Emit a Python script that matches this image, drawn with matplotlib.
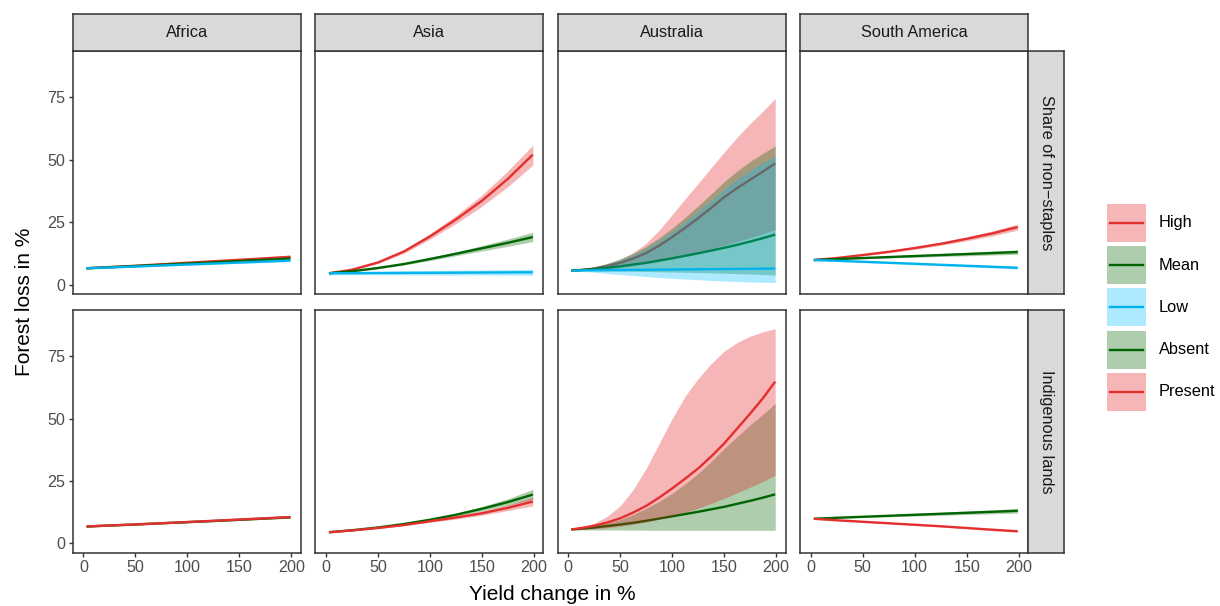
import matplotlib
matplotlib.use("Agg")
import matplotlib.pyplot as plt
from matplotlib.patches import Rectangle
from matplotlib.lines import Line2D

plt.rcParams['font.family'] = ['Liberation Sans', 'DejaVu Sans']

# ---------------- data ----------------
x_vals = [3, 25, 50, 75, 100, 125, 150, 175, 199]
aus_x = [3, 12.5, 25, 37.5, 50, 62.5, 75, 87.5, 100, 112.5, 125, 137.5, 150,
         162.5, 175, 187.5, 199]
regions = ["Africa", "Asia", "Australia", "South America"]
row_labels = ["Share of non\u2212staples", "Indigenous lands"]
legend_labels = ["High", "Mean", "Low", "Absent", "Present"]
x_ticks = [0, 50, 100, 150, 200]
y_ticks = [0, 25, 50, 75]

# Row 1: share of non-staples
africa_high = [6.5, 7.0, 7.5, 8.1, 8.7, 9.3, 9.9, 10.5, 11.1]
africa_high_lo = [6.3, 6.8, 7.3, 7.85, 8.4, 8.95, 9.5, 10.0, 10.5]
africa_high_hi = [6.7, 7.2, 7.7, 8.35, 9.0, 9.65, 10.3, 11.0, 11.7]
africa_mean = [6.5, 6.9, 7.4, 7.9, 8.4, 8.9, 9.4, 9.9, 10.4]
africa_mean_lo = [6.3, 6.7, 7.2, 7.7, 8.15, 8.6, 9.05, 9.5, 9.9]
africa_mean_hi = [6.7, 7.1, 7.6, 8.1, 8.65, 9.2, 9.75, 10.3, 10.9]
africa_low = [6.5, 6.8, 7.2, 7.6, 8.0, 8.4, 8.8, 9.2, 9.6]
africa_low_lo = [6.3, 6.6, 7.0, 7.4, 7.75, 8.1, 8.45, 8.8, 9.1]
africa_low_hi = [6.7, 7.0, 7.4, 7.8, 8.25, 8.7, 9.15, 9.6, 10.1]

asia_high = [4.5, 5.9, 8.8, 13.2, 19.2, 26.0, 33.5, 42.3, 52.0]
asia_high_lo = [4.4, 5.7, 8.4, 12.5, 18.1, 24.4, 31.3, 39.2, 47.8]
asia_high_hi = [4.6, 6.1, 9.2, 13.9, 20.3, 27.6, 35.8, 45.5, 55.8]
asia_mean = [4.5, 5.3, 6.6, 8.2, 10.2, 12.3, 14.5, 16.7, 19.0]
asia_mean_lo = [4.4, 5.1, 6.3, 7.8, 9.6, 11.5, 13.4, 15.3, 17.2]
asia_mean_hi = [4.6, 5.5, 6.9, 8.6, 10.8, 13.1, 15.6, 18.2, 20.9]
asia_low = [4.5, 4.55, 4.6, 4.65, 4.7, 4.75, 4.8, 4.85, 4.9]
asia_low_lo = [3.9, 3.9, 3.9, 3.85, 3.85, 3.8, 3.8, 3.75, 3.7]
asia_low_hi = [5.1, 5.2, 5.3, 5.45, 5.55, 5.7, 5.8, 5.95, 6.1]

australia_high = [5.6, 5.8, 6.4, 7.4, 8.7, 10.4, 12.6, 15.6, 19.0, 22.7, 26.6,
                  30.7, 35.0, 38.6, 42.0, 45.3, 48.5]
australia_high_lo = [5.5, 5.6, 5.9, 6.3, 6.8, 7.5, 8.3, 9.2, 10.3, 11.5, 12.8,
                     14.2, 15.7, 17.2, 18.8, 20.4, 22.0]
australia_high_hi = [5.7, 6.2, 7.0, 8.3, 10.0, 12.8, 16.5, 21.8, 28.0, 34.3, 40.5,
                     46.8, 53.0, 59.0, 64.5, 69.5, 74.5]
australia_mean = [5.6, 5.8, 6.2, 6.7, 7.3, 8.0, 8.7, 9.6, 10.5, 11.5, 12.5,
                  13.6, 14.7, 15.9, 17.2, 18.6, 20.0]
australia_mean_lo = [5.5, 5.5, 5.5, 5.45, 5.4, 5.3, 5.2, 5.1, 5.0, 4.9, 4.8,
                     4.65, 4.5, 4.35, 4.2, 4.0, 3.8]
australia_mean_hi = [5.7, 6.2, 7.1, 8.5, 10.3, 12.5, 15.3, 18.7, 22.6, 26.9, 31.5,
                     36.3, 41.2, 45.5, 49.3, 52.6, 55.5]
australia_low = [5.6, 5.65, 5.7, 5.75, 5.8, 5.85, 5.9, 5.95, 6.0, 6.05, 6.1,
                 6.15, 6.2, 6.25, 6.3, 6.35, 6.4]
australia_low_lo = [5.5, 5.2, 4.9, 4.4, 4.0, 3.6, 3.2, 2.8, 2.5, 2.2, 1.9,
                    1.6, 1.4, 1.2, 1.0, 0.9, 0.8]
australia_low_hi = [5.7, 6.1, 6.9, 8.2, 9.8, 11.8, 14.4, 17.6, 21.2, 25.2, 29.4,
                    33.8, 38.3, 42.2, 45.8, 48.8, 51.5]

samerica_high = [9.8, 10.6, 11.8, 13.1, 14.6, 16.3, 18.3, 20.5, 23.0]
samerica_high_lo = [9.7, 10.4, 11.5, 12.7, 14.1, 15.7, 17.5, 19.5, 21.8]
samerica_high_hi = [9.9, 10.8, 12.1, 13.5, 15.1, 16.9, 19.1, 21.5, 24.2]
samerica_mean = [9.8, 10.2, 10.6, 11.0, 11.4, 11.8, 12.2, 12.6, 13.0]
samerica_mean_lo = [9.7, 10.0, 10.3, 10.6, 10.9, 11.2, 11.5, 11.8, 12.1]
samerica_mean_hi = [9.9, 10.4, 10.9, 11.4, 11.9, 12.4, 12.9, 13.4, 13.9]
samerica_low = [9.8, 9.5, 9.1, 8.7, 8.3, 7.9, 7.5, 7.1, 6.7]
samerica_low_lo = [9.7, 9.3, 8.85, 8.4, 7.95, 7.5, 7.05, 6.6, 6.1]
samerica_low_hi = [9.9, 9.7, 9.35, 9.0, 8.65, 8.3, 7.95, 7.6, 7.3]

# Row 2: indigenous lands
africa_absent = [6.7, 7.1, 7.5, 8.0, 8.45, 8.9, 9.4, 9.9, 10.4]
africa_absent_lo = [6.5, 6.9, 7.3, 7.8, 8.2, 8.65, 9.1, 9.6, 10.0]
africa_absent_hi = [6.9, 7.3, 7.7, 8.2, 8.7, 9.15, 9.7, 10.2, 10.8]
africa_present = [6.7, 7.1, 7.55, 8.0, 8.5, 9.0, 9.5, 10.0, 10.5]
africa_present_lo = [6.5, 6.9, 7.35, 7.8, 8.3, 8.75, 9.25, 9.7, 10.2]
africa_present_hi = [6.9, 7.3, 7.75, 8.2, 8.7, 9.25, 9.75, 10.3, 10.8]

asia_absent = [4.4, 5.2, 6.3, 7.7, 9.4, 11.4, 13.8, 16.5, 19.5]
asia_absent_lo = [4.3, 5.1, 6.1, 7.4, 9.0, 10.8, 12.9, 15.2, 17.6]
asia_absent_hi = [4.5, 5.3, 6.5, 8.0, 9.8, 12.0, 14.7, 17.8, 21.6]
asia_present = [4.4, 5.1, 6.1, 7.3, 8.8, 10.3, 12.0, 14.2, 16.7]
asia_present_lo = [4.3, 5.0, 5.9, 7.0, 8.4, 9.7, 11.2, 13.1, 15.0]
asia_present_hi = [4.5, 5.2, 6.3, 7.6, 9.2, 10.9, 12.8, 15.3, 18.4]

australia_absent = [5.5, 5.8, 6.3, 6.9, 7.5, 8.2, 9.0, 9.9, 10.8, 11.7, 12.6,
                    13.6, 14.6, 15.8, 17.0, 18.3, 19.6]
australia_absent_lo = [5.4, 5.35, 5.3, 5.3, 5.3, 5.25, 5.2, 5.2, 5.2, 5.2, 5.2,
                       5.2, 5.2, 5.2, 5.2, 5.2, 5.2]
australia_absent_hi = [5.6, 6.1, 7.0, 8.1, 9.5, 11.5, 14.0, 16.8, 20.0, 23.8, 28.0,
                       32.8, 38.0, 42.8, 47.5, 51.8, 56.0]
australia_present = [5.5, 6.1, 7.0, 8.3, 10.0, 12.3, 15.0, 18.3, 22.0, 25.9, 30.0,
                     34.8, 40.0, 46.0, 52.0, 58.3, 64.8]
australia_present_lo = [5.4, 5.5, 5.8, 6.2, 6.8, 7.6, 8.5, 9.7, 11.0, 12.4, 14.0,
                        16.0, 18.0, 20.2, 22.5, 24.8, 27.2]
australia_present_hi = [5.6, 6.4, 8.0, 10.8, 15.0, 21.5, 30.0, 40.0, 50.0, 59.0, 66.0,
                        72.0, 77.0, 80.5, 83.0, 84.8, 86.0]

samerica_absent = [9.8, 10.2, 10.6, 11.0, 11.4, 11.8, 12.2, 12.6, 13.0]
samerica_absent_lo = [9.7, 10.0, 10.3, 10.6, 10.9, 11.2, 11.5, 11.8, 12.1]
samerica_absent_hi = [9.9, 10.4, 10.9, 11.4, 11.9, 12.4, 12.9, 13.4, 13.9]
samerica_present = [9.8, 9.2, 8.6, 8.0, 7.4, 6.8, 6.1, 5.4, 4.8]
samerica_present_lo = [9.6, 9.0, 8.4, 7.8, 7.15, 6.55, 5.85, 5.1, 4.5]
samerica_present_hi = [10.0, 9.4, 8.8, 8.2, 7.65, 7.05, 6.35, 5.7, 5.1]

# ---------------- styles ----------------
RED_LINE, RED_FILL = "#E3302F", "#E41A1C"
GREEN_LINE, GREEN_FILL = "#006400", "#006400"
BLUE_LINE, BLUE_FILL = "#00B2EE", "#00BFFF"
ALPHA = 0.32
style = {
    "High": (RED_LINE, RED_FILL),
    "Mean": (GREEN_LINE, GREEN_FILL),
    "Low": (BLUE_LINE, BLUE_FILL),
    "Absent": (GREEN_LINE, GREEN_FILL),
    "Present": (RED_LINE, RED_FILL),
}

X = x_vals
A = aus_x
panels = {
    (0, "Africa"): [("High", X, africa_high, africa_high_lo, africa_high_hi),
                    ("Mean", X, africa_mean, africa_mean_lo, africa_mean_hi),
                    ("Low", X, africa_low, africa_low_lo, africa_low_hi)],
    (0, "Asia"): [("High", X, asia_high, asia_high_lo, asia_high_hi),
                  ("Mean", X, asia_mean, asia_mean_lo, asia_mean_hi),
                  ("Low", X, asia_low, asia_low_lo, asia_low_hi)],
    (0, "Australia"): [("High", A, australia_high, australia_high_lo, australia_high_hi),
                       ("Mean", A, australia_mean, australia_mean_lo, australia_mean_hi),
                       ("Low", A, australia_low, australia_low_lo, australia_low_hi)],
    (0, "South America"): [("High", X, samerica_high, samerica_high_lo, samerica_high_hi),
                           ("Mean", X, samerica_mean, samerica_mean_lo, samerica_mean_hi),
                           ("Low", X, samerica_low, samerica_low_lo, samerica_low_hi)],
    (1, "Africa"): [("Absent", X, africa_absent, africa_absent_lo, africa_absent_hi),
                    ("Present", X, africa_present, africa_present_lo, africa_present_hi)],
    (1, "Asia"): [("Absent", X, asia_absent, asia_absent_lo, asia_absent_hi),
                  ("Present", X, asia_present, asia_present_lo, asia_present_hi)],
    (1, "Australia"): [("Absent", A, australia_absent, australia_absent_lo, australia_absent_hi),
                       ("Present", A, australia_present, australia_present_lo, australia_present_hi)],
    (1, "South America"): [("Absent", X, samerica_absent, samerica_absent_lo, samerica_absent_hi),
                           ("Present", X, samerica_present, samerica_present_lo, samerica_present_hi)],
}

# ---------------- layout ----------------
W, H = 1220, 606
fig = plt.figure(figsize=(W / 100, H / 100), dpi=100)
fig.patch.set_facecolor("white")


def box(l, t, r, b):
    return [l / W, 1 - b / H, (r - l) / W, (b - t) / H]


col_lr = [(72.7, 301.0), (315.1, 543.4), (557.5, 785.8), (800.0, 1028.3)]
row_tb = [(51.0, 294.0), (310.0, 552.7)]
BORDER = "#333333"
STRIP = "#D9D9D9"

for i, (t, b) in enumerate(row_tb):
    for j, (l, r) in enumerate(col_lr):
        ax = fig.add_axes(box(l, t, r, b))
        z = 2
        for grp, xs, mid, lo, hi in panels[(i, regions[j])]:
            lc, fc = style[grp]
            ax.fill_between(xs, lo, hi, color=fc, alpha=ALPHA, lw=0, zorder=z)
            ax.plot(xs, mid, color=lc, lw=1.7, zorder=z + 1, solid_capstyle="butt",
                    solid_joinstyle="round")
            z += 2
        ax.set_xlim(-10.3, 209.2)
        ax.set_ylim(-3.8, 93.5)
        ax.set_xticks(x_ticks)
        ax.set_yticks(y_ticks)
        for s in ax.spines.values():
            s.set_color(BORDER)
            s.set_linewidth(1.1)
            s.set_zorder(20)
        ax.tick_params(length=3.2, width=1.0, color=BORDER, labelcolor="#4D4D4D",
                       labelsize=11.6, pad=2)
        if j != 0:
            ax.tick_params(left=False, labelleft=False)
        if i != len(row_tb) - 1:
            ax.tick_params(bottom=False, labelbottom=False)
        if i == 0:
            sax = fig.add_axes(box(l, 14, r, 51))
            sax.set_facecolor(STRIP)
            sax.set_xticks([]); sax.set_yticks([])
            for s in sax.spines.values():
                s.set_color(BORDER); s.set_linewidth(1.1)
            sax.text(0.5, 0.5, regions[j], ha="center", va="center",
                     fontsize=11.8, color="#1A1A1A", transform=sax.transAxes)
    rax = fig.add_axes(box(1028.3, t, 1064.3, b))
    rax.set_facecolor(STRIP)
    rax.set_xticks([]); rax.set_yticks([])
    for s in rax.spines.values():
        s.set_color(BORDER); s.set_linewidth(1.1)
    rax.text(0.5, 0.5, row_labels[i], ha="center", va="center", rotation=270,
             fontsize=11.8, color="#1A1A1A", transform=rax.transAxes)

# axis titles
fig.text(552 / W, 1 - 594 / H, "Yield change in %", ha="center", va="center",
         fontsize=15, color="black")
fig.text(24 / W, 1 - 302 / H, "Forest loss in %", ha="center", va="center",
         rotation=90, fontsize=15, color="black")

# legend
for k, lab in enumerate(legend_labels):
    lc, fc = style[lab]
    top = 204 + 42.2 * k
    fig.patches.append(Rectangle((1107 / W, 1 - (top + 38) / H), 39 / W, 38 / H,
                                 transform=fig.transFigure, facecolor=fc,
                                 alpha=ALPHA, lw=0))
    yc = 1 - (top + 19) / H
    fig.lines.append(Line2D([1110 / W, 1143 / W], [yc, yc], transform=fig.transFigure,
                            color=lc, lw=1.7))
    fig.text(1159 / W, yc, lab, ha="left", va="center", fontsize=11.8, color="black")

fig.savefig("out.png", dpi=100, facecolor="white")
